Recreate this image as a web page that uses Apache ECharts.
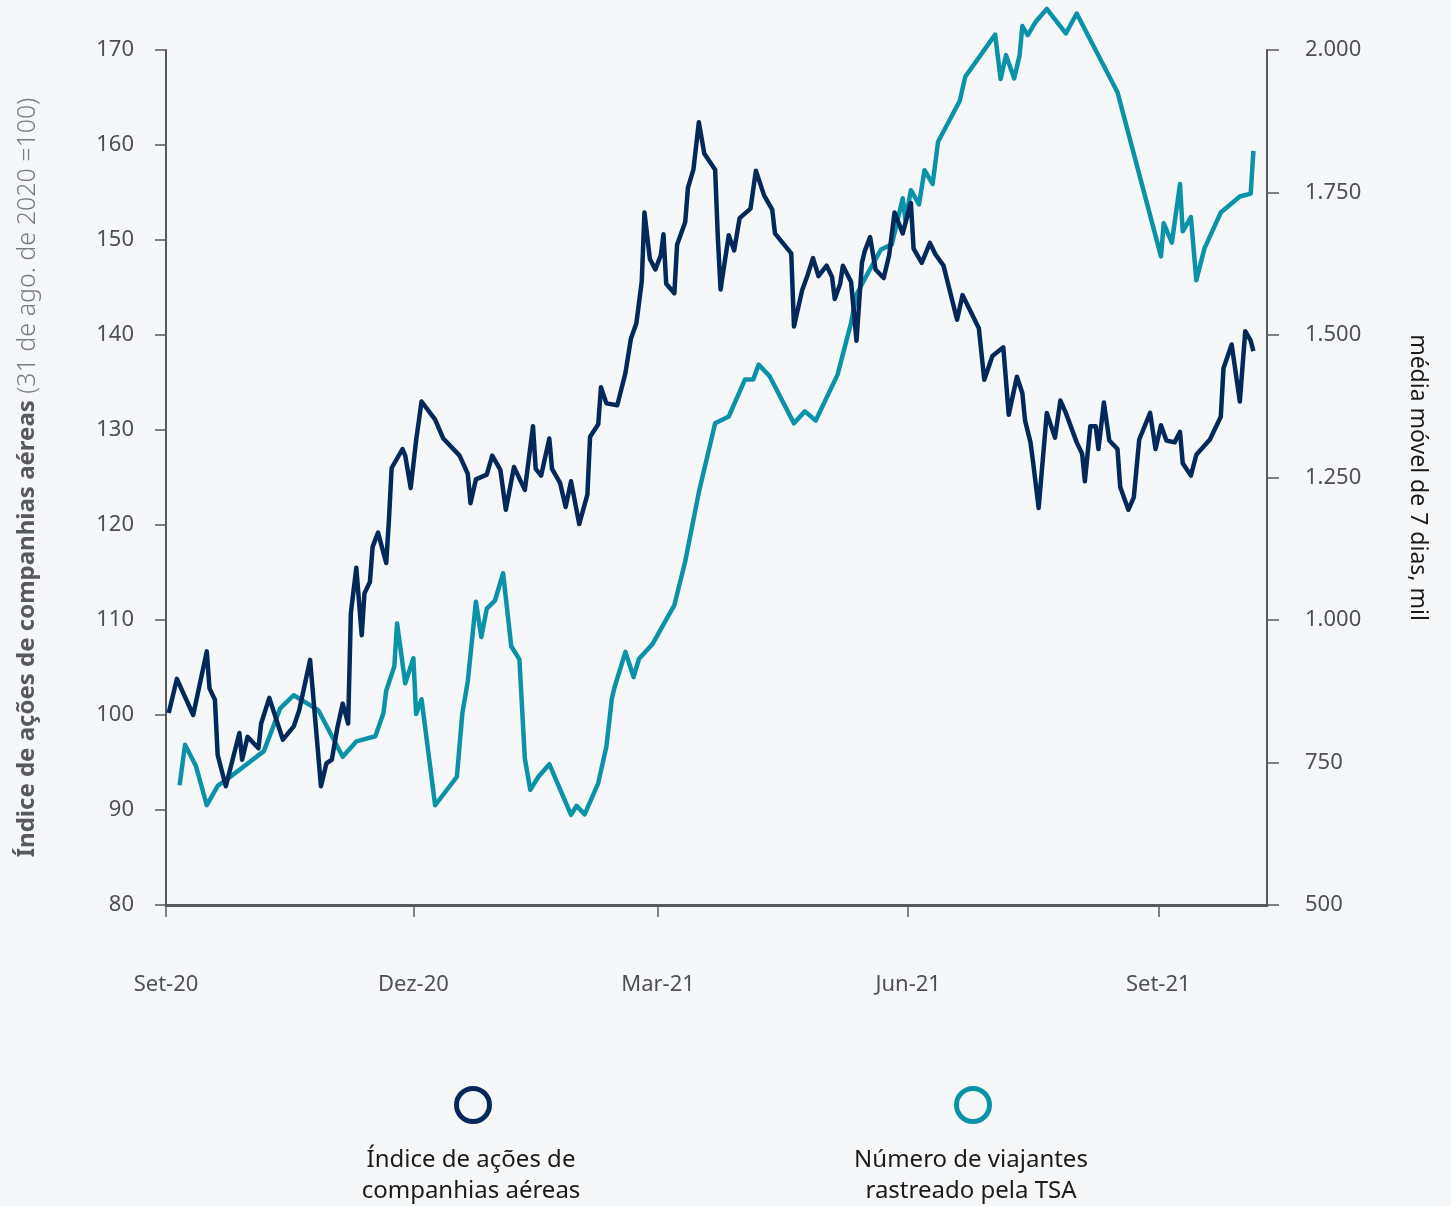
<!DOCTYPE html>
<html lang="pt">
<head>
<meta charset="utf-8">
<title>Ações de companhias aéreas e viajantes TSA</title>
<script src="https://cdn.jsdelivr.net/npm/echarts@6/dist/echarts.min.js"></script>
<style>
  html, body { margin: 0; padding: 0; background: #f5f7f9; }
  #chart { width: 1451px; height: 1206px; }
</style>
</head>
<body>
<div id="chart"></div>
<script>
// Índice de ações de companhias aéreas (31 ago. 2020 = 100)
const airlineIndex = [
  ['2020-09-02',100.2],['2020-09-05',103.8],['2020-09-11',100.0],['2020-09-16',106.7],['2020-09-17',102.8],
  ['2020-09-19',101.6],['2020-09-20',95.8],['2020-09-23',92.5],['2020-09-28',98.1],['2020-09-29',95.3],
  ['2020-10-01',97.7],['2020-10-05',96.5],['2020-10-06',99.1],['2020-10-09',101.8],['2020-10-14',97.4],
  ['2020-10-18',98.8],['2020-10-20',100.5],['2020-10-24',105.8],['2020-10-28',92.5],['2020-10-30',94.9],
  ['2020-11-01',95.3],['2020-11-03',98.6],['2020-11-05',101.2],['2020-11-07',99.1],['2020-11-08',110.7],
  ['2020-11-10',115.5],['2020-11-12',108.4],['2020-11-13',112.8],['2020-11-15',114.0],['2020-11-16',117.7],
  ['2020-11-18',119.2],['2020-11-21',116.0],['2020-11-22',120.5],['2020-11-23',126.0],['2020-11-27',128.0],
  ['2020-11-28',127.3],['2020-11-30',123.9],['2020-12-02',128.9],['2020-12-04',133.0],['2020-12-09',131.1],
  ['2020-12-12',129.1],['2020-12-18',127.3],['2020-12-21',125.4],['2020-12-22',122.3],['2020-12-24',124.8],
  ['2020-12-28',125.3],['2020-12-30',127.3],['2021-01-02',125.8],['2021-01-04',121.6],['2021-01-07',126.1],
  ['2021-01-11',123.7],['2021-01-14',130.4],['2021-01-15',125.9],['2021-01-17',125.2],['2021-01-20',129.1],
  ['2021-01-21',125.9],['2021-01-24',124.4],['2021-01-26',121.9],['2021-01-28',124.6],['2021-01-31',120.1],
  ['2021-02-03',123.2],['2021-02-04',129.3],['2021-02-07',130.6],['2021-02-08',134.5],['2021-02-10',132.8],
  ['2021-02-14',132.6],['2021-02-17',136.0],['2021-02-19',139.6],['2021-02-21',141.2],['2021-02-23',145.6],
  ['2021-02-24',152.9],['2021-02-26',148.0],['2021-02-28',146.9],['2021-03-02',148.4],['2021-03-03',150.6],
  ['2021-03-04',145.4],['2021-03-07',144.4],['2021-03-08',149.5],['2021-03-11',151.9],['2021-03-12',155.5],
  ['2021-03-14',157.4],['2021-03-16',162.4],['2021-03-18',159.1],['2021-03-22',157.4],['2021-03-23',150.2],
  ['2021-03-24',144.8],['2021-03-27',150.5],['2021-03-29',148.9],['2021-03-31',152.3],['2021-04-04',153.3],
  ['2021-04-06',157.3],['2021-04-09',154.7],['2021-04-12',153.2],['2021-04-13',150.7],['2021-04-19',148.6],
  ['2021-04-20',140.9],['2021-04-23',144.7],['2021-04-25',146.3],['2021-04-27',148.1],['2021-04-29',146.2],
  ['2021-05-02',147.3],['2021-05-04',146.1],['2021-05-05',143.8],['2021-05-07',145.4],['2021-05-08',147.3],
  ['2021-05-11',145.6],['2021-05-13',139.4],['2021-05-15',147.6],['2021-05-16',148.8],['2021-05-18',150.3],
  ['2021-05-20',146.9],['2021-05-23',146.0],['2021-05-25',148.4],['2021-05-27',152.9],['2021-05-30',150.7],
  ['2021-06-02',153.9],['2021-06-03',149.1],['2021-06-06',147.6],['2021-06-09',149.7],['2021-06-11',148.5],
  ['2021-06-14',147.3],['2021-06-19',141.6],['2021-06-21',144.2],['2021-06-27',140.7],['2021-06-29',135.3],
  ['2021-07-02',137.8],['2021-07-06',138.7],['2021-07-08',131.6],['2021-07-11',135.6],['2021-07-13',133.9],
  ['2021-07-14',131.0],['2021-07-16',128.7],['2021-07-17',126.5],['2021-07-19',121.8],['2021-07-22',131.8],
  ['2021-07-25',129.2],['2021-07-27',133.1],['2021-07-29',131.8],['2021-08-02',128.7],['2021-08-04',127.5],
  ['2021-08-05',124.6],['2021-08-07',130.4],['2021-08-09',130.4],['2021-08-10',128.0],['2021-08-12',132.9],
  ['2021-08-14',128.9],['2021-08-17',128.0],['2021-08-18',124.0],['2021-08-21',121.6],['2021-08-23',122.9],
  ['2021-08-25',129.0],['2021-08-29',131.8],['2021-08-31',128.0],['2021-09-02',130.5],['2021-09-04',128.9],
  ['2021-09-07',128.7],['2021-09-09',129.8],['2021-09-10',126.5],['2021-09-13',125.2],['2021-09-15',127.4],
  ['2021-09-20',129.0],['2021-09-24',131.4],['2021-09-25',136.5],['2021-09-28',139.0],['2021-10-01',133.0],
  ['2021-10-03',140.4],['2021-10-05',139.4],['2021-10-06',138.3]
];

// Viajantes rastreados pela TSA, média móvel de 7 dias (mil)
const tsaTravelers = [
  ['2020-09-06',710],['2020-09-08',781],['2020-09-12',744],['2020-09-16',675],['2020-09-20',709],
  ['2020-09-23',719],['2020-10-07',770],['2020-10-13',845],['2020-10-18',868],['2020-10-27',842],
  ['2020-11-05',760],['2020-11-10',787],['2020-11-17',796],['2020-11-20',837],['2020-11-21',876],
  ['2020-11-24',919],['2020-11-25',994],['2020-11-28',889],['2020-12-01',933],['2020-12-02',835],
  ['2020-12-04',861],['2020-12-09',675],['2020-12-17',725],['2020-12-19',836],['2020-12-21',892],
  ['2020-12-24',1032],['2020-12-26',970],['2020-12-28',1020],['2020-12-31',1034],['2021-01-03',1082],
  ['2021-01-06',954],['2021-01-09',931],['2021-01-11',757],['2021-01-13',702],['2021-01-16',725],
  ['2021-01-20',747],['2021-01-28',658],['2021-01-30',674],['2021-02-02',659],['2021-02-07',714],
  ['2021-02-10',778],['2021-02-12',862],['2021-02-13',882],['2021-02-17',944],['2021-02-20',900],
  ['2021-02-22',932],['2021-02-27',958],['2021-03-07',1026],['2021-03-11',1103],['2021-03-16',1224],
  ['2021-03-22',1345],['2021-03-27',1357],['2021-04-02',1422],['2021-04-05',1422],['2021-04-07',1448],
  ['2021-04-11',1428],['2021-04-20',1345],['2021-04-24',1366],['2021-04-28',1350],['2021-05-06',1430],
  ['2021-05-11',1521],['2021-05-13',1571],['2021-05-17',1607],['2021-05-22',1650],['2021-05-26',1659],
  ['2021-05-30',1740],['2021-05-31',1701],['2021-06-02',1754],['2021-06-05',1729],['2021-06-07',1789],
  ['2021-06-10',1765],['2021-06-12',1839],['2021-06-20',1911],['2021-06-22',1953],['2021-07-03',2027],
  ['2021-07-05',1949],['2021-07-07',1991],['2021-07-10',1950],['2021-07-12',1991],['2021-07-13',2042],
  ['2021-07-15',2026],['2021-07-18',2050],['2021-07-22',2072],['2021-07-29',2029],['2021-08-02',2064],
  ['2021-08-17',1926],['2021-09-02',1638],['2021-09-03',1696],['2021-09-06',1662],['2021-09-09',1765],
  ['2021-09-10',1682],['2021-09-13',1707],['2021-09-15',1596],['2021-09-18',1652],['2021-09-24',1715],
  ['2021-10-01',1743],['2021-10-05',1748],['2021-10-06',1823]
];

// Marcas trimestrais do eixo de datas
const quarterTicks = ['2020-09-01', '2020-12-01', '2021-03-01', '2021-06-01', '2021-09-01'];
const monthNames = ['Jan','Fev','Mar','Abr','Mai','Jun','Jul','Ago','Set','Out','Nov','Dez'];

const seriesNames = ['Índice de ações de companhias aéreas', 'Número de viajantes rastreado pela TSA'];
const legendLines = [['Índice de ações de', 'companhias aéreas'], ['Número de viajantes', 'rastreado pela TSA']];

const NAVY = '#03295b';
const TEAL = '#0a93a8';
const AXIS = '#58595b';
const FONT = '"Noto Sans", "Open Sans", sans-serif';

// datas como instantes locais (ms) para o eixo numérico
const toTime = s => new Date(s + 'T00:00:00').getTime();
const tickTimes = quarterTicks.map(toTime);
const asTimePairs = rows => rows.map(r => [toTime(r[0]), r[1]]);

const chart = echarts.init(document.getElementById('chart'), null, { renderer: 'canvas' });

// legenda: círculo vazado com o rótulo em duas linhas logo abaixo
const legendGraphics = [];
[NAVY, TEAL].forEach((c, i) => {
  const cx = i === 0 ? 473 : 973;
  legendGraphics.push({
    type: 'circle', shape: { cx: cx, cy: 1105, r: 16.5 },
    style: { fill: 'none', stroke: c, lineWidth: 5 }
  });
  legendGraphics.push({
    type: 'text', x: cx - 2, y: 1176,
    style: {
      text: legendLines[i].join('\n'), fill: '#1b1b1b', font: '24px ' + FONT,
      textAlign: 'center', textVerticalAlign: 'middle', lineHeight: 31
    }
  });
});

chart.setOption({
  backgroundColor: '#f5f7f9',
  animation: false,
  grid: { left: 166, right: 184, top: 50, bottom: 301, containLabel: false },
  xAxis: {
    type: 'value',
    min: toTime('2020-09-01'),
    max: toTime('2021-10-11'),
    axisLine: { show: true, lineStyle: { color: AXIS, width: 3 } },
    axisTick: { show: true, length: 12, lineStyle: { color: AXIS, width: 1.5 }, customValues: tickTimes },
    axisLabel: {
      customValues: tickTimes,
      margin: 69,
      color: '#4f5052',
      fontFamily: FONT,
      fontSize: 22,
      formatter: v => {
        const d = new Date(v);
        return monthNames[d.getMonth()] + '-' + String(d.getFullYear()).slice(2);
      }
    },
    splitLine: { show: false }
  },
  yAxis: [
    {
      type: 'value', min: 80, max: 170, interval: 10, position: 'left',
      name: '{b|Índice de ações de companhias aéreas}{l|\u00a0(31 de ago. de 2020 =100)}',
      nameLocation: 'middle', nameRotate: 90, nameGap: 126,
      nameTextStyle: {
        rich: {
          b: { fontFamily: FONT, fontSize: 24, fontWeight: 'bold', color: '#58595b' },
          l: { fontFamily: FONT, fontSize: 25, fontWeight: 300, color: '#7a7b7e' }
        }
      },
      axisLine: { show: true, lineStyle: { color: AXIS, width: 2 } },
      axisTick: { show: true, length: 11, lineStyle: { color: AXIS, width: 1.5 } },
      axisLabel: { margin: 32, color: '#4f5052', fontFamily: FONT, fontSize: 22 },
      splitLine: { show: false }
    },
    {
      type: 'value', min: 500, max: 2000, interval: 250, position: 'right',
      name: 'média móvel de 7 dias, mil',
      nameLocation: 'middle', nameRotate: -90, nameGap: 139,
      nameTextStyle: { fontFamily: FONT, fontSize: 23, color: '#1b1b1b' },
      axisLine: { show: true, lineStyle: { color: AXIS, width: 2 } },
      axisTick: { show: true, length: 12, lineStyle: { color: AXIS, width: 1.5 } },
      axisLabel: {
        margin: 38, color: '#4f5052', fontFamily: FONT, fontSize: 22,
        formatter: v => String(v).replace(/\B(?=(\d{3})+(?!\d))/g, '.')
      },
      splitLine: { show: false }
    }
  ],
  series: [
    {
      name: seriesNames[0], type: 'line', yAxisIndex: 0, data: asTimePairs(airlineIndex),
      showSymbol: false, lineStyle: { color: NAVY, width: 4.5, join: 'round' },
      itemStyle: { color: NAVY }, z: 3
    },
    {
      name: seriesNames[1], type: 'line', yAxisIndex: 1, data: asTimePairs(tsaTravelers),
      showSymbol: false, clip: false, lineStyle: { color: TEAL, width: 4.5, join: 'round' },
      itemStyle: { color: TEAL }, z: 2
    }
  ],
  graphic: legendGraphics
});
</script>
</body>
</html>
